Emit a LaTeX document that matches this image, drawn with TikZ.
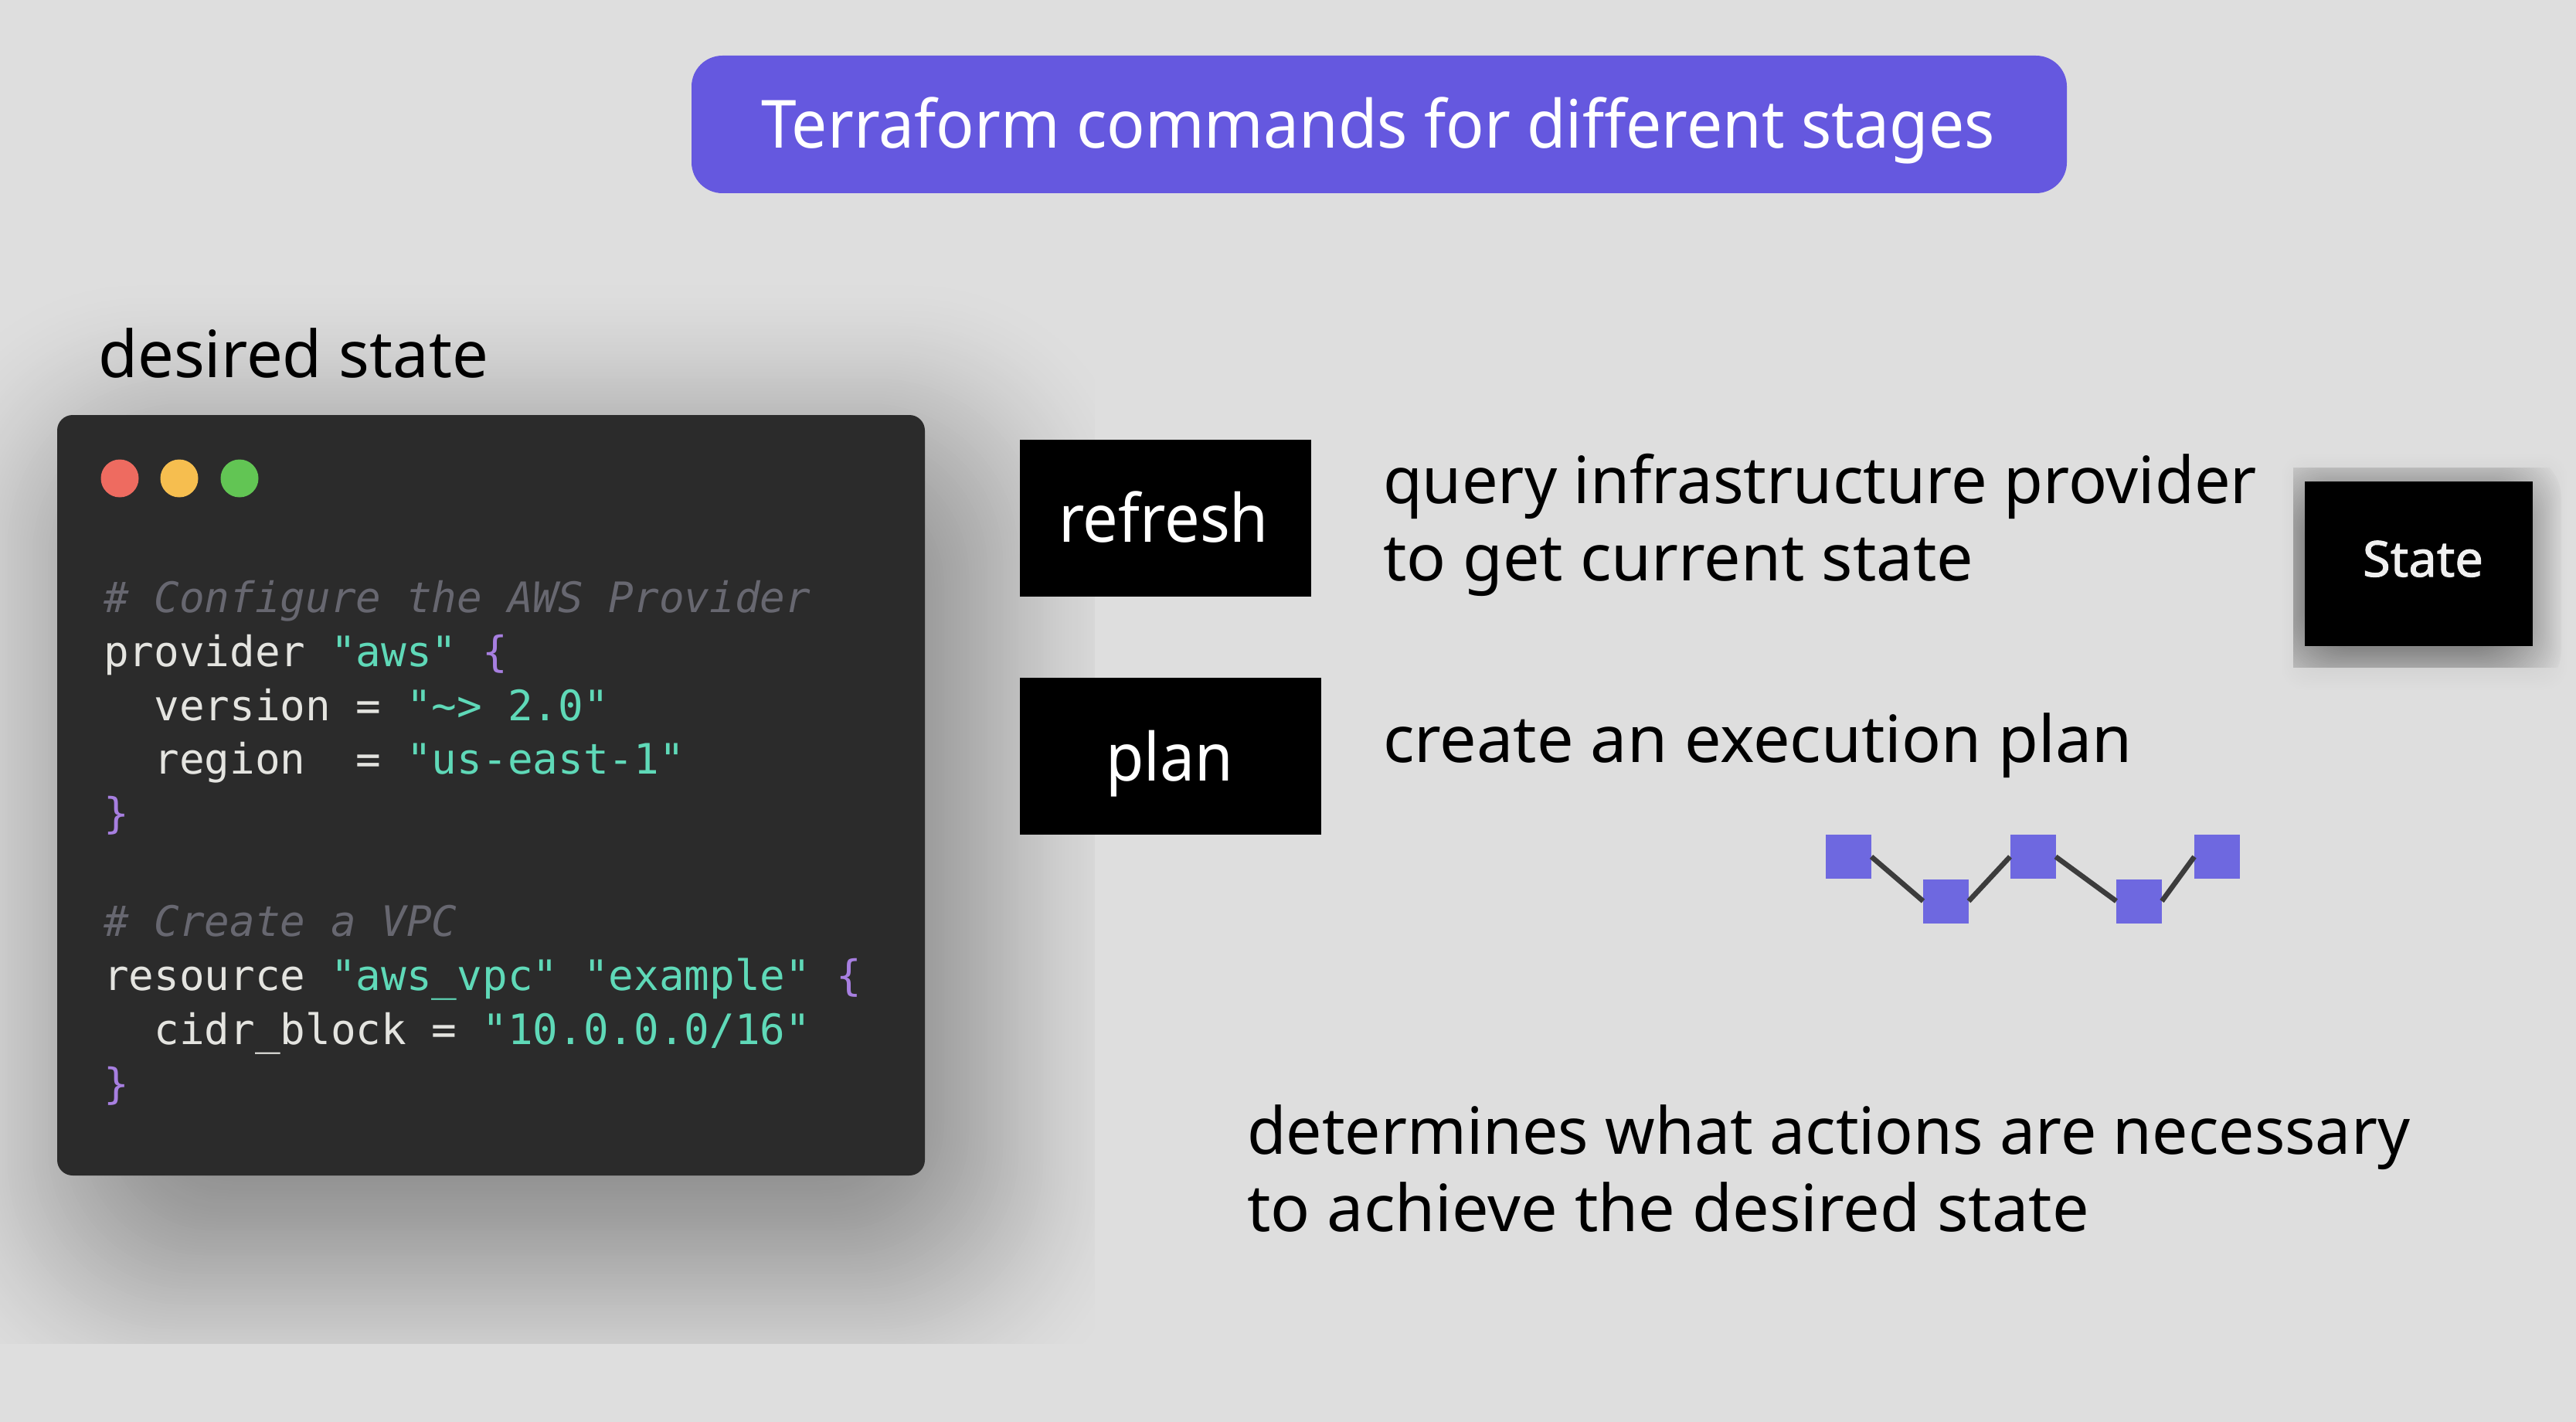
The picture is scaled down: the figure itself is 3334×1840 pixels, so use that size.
\documentclass[tikz,border=0pt]{standalone}
\usepackage{graphicx}
\usepackage{fontspec}
\setmainfont{Noto Sans}
\newfontfamily\codefont{DejaVu Sans Mono}
\newfontfamily\statefont[FakeBold=1.6]{Noto Sans}
\newcommand{\fitw}[2]{\setbox0\hbox{#2}\pgfmathsetmacro\fitfac{(#1*0.5)/\the\wd0}\scalebox{\fitfac}[1]{\box0}}
\definecolor{pagebg}{HTML}{DEDEDE}
\definecolor{titlebg}{HTML}{6558DF}
\definecolor{sqfill}{HTML}{6E68E0}
\definecolor{cardbg}{HTML}{2B2B2B}
\definecolor{codetext}{HTML}{E4E4E0}
\definecolor{codestr}{HTML}{5FD9B8}
\definecolor{codebrace}{HTML}{A77FE0}
\definecolor{codecmt}{HTML}{676770}
\definecolor{linkline}{HTML}{3C3C3C}
\definecolor{dotred}{HTML}{EE6B60}
\definecolor{dotyellow}{HTML}{F6BE4F}
\definecolor{dotgreen}{HTML}{62C554}
\newcommand{\str}[1]{\textcolor{codestr}{#1}}
\newcommand{\brc}[1]{\textcolor{codebrace}{#1}}
\tikzset{
  every node/.style={inner sep=0pt,outer sep=0pt},
  bigtext/.style={anchor=base west,font=\fontsize{42pt}{50pt}\selectfont,text=black},
  whitetext/.style={anchor=base west,font=\fontsize{43pt}{50pt}\selectfont,text=white},
  codeline/.style={anchor=base west,font=\codefont\fontsize{27.15pt}{34pt}\selectfont,text=codetext},
  cmtline/.style={anchor=base west,font=\codefont\itshape\fontsize{27.15pt}{34pt}\selectfont,text=codecmt},
  blackbox/.style={fill=black,draw=none,minimum height=101.5pt},
  planbox/.style={fill=sqfill,draw=none,minimum width=29.5pt,minimum height=28.5pt},
  link/.style={draw=linkline,line width=3.3pt},
  dot/.style={circle,minimum size=24.5pt},
}
\begin{document}
\begin{tikzpicture}[x=0.5pt,y=-0.5pt]
\useasboundingbox (0,0) rectangle (3334,1840);
\fill[pagebg] (0,0) rectangle (3334,1840);
% main soft shadow
\begin{scope}
\clip (0,0) rectangle (1416,1738);
\foreach \t in {0,...,100}{
  \pgfmathsetmacro\dd{\t*4}
  \pgfmathsetmacro\uu{\t/100}
  \pgfmathsetmacro\gv{int(round(222*(1-0.36*(3*\uu*\uu-2*\uu*\uu*\uu))))}
  \pgfmathsetmacro\rr{max(30,150-1.2*\t)}
  \fill[fill={rgb,255:red,\gv;green,\gv;blue,\gv},rounded corners=\rr pt]
    (-130+\dd,350+\dd) rectangle (1490-\dd,1860-\dd);
}
\end{scope}
% state shadow
\foreach \t in {0,...,10}{
  \pgfmathsetmacro\dd{\t*3}
  \pgfmathsetmacro\gv{int(round(222-1.0*\t))}
  \fill[fill={rgb,255:red,\gv;green,\gv;blue,\gv},rounded corners=15pt]
    (2950+\dd,585+\dd) rectangle (3325-\dd,895-\dd);
}
\begin{scope}
\clip (2968,605) rectangle (3330,863);
\foreach \t in {0,...,30}{
  \pgfmathsetmacro\dd{\t*2}
  \pgfmathsetmacro\gv{int(round(212-2.6*\t))}
  \fill[fill={rgb,255:red,\gv;green,\gv;blue,\gv},rounded corners=30pt]
    (2925+\dd,585+\dd) rectangle (3315-\dd,900-\dd);
}
\end{scope}
% title
\node[fill=titlebg,rounded corners=20pt,minimum width=890pt,minimum height=89pt] (titlebox) at (1785,161) {};
\node[whitetext] (titletext) at (985,192) {\fitw{1597}{Terraform commands for different stages}};
% desired state
\node[bigtext] (desired) at (127,488) {\fitw{505}{desired state}};
% card
\node[fill=cardbg,rounded corners=10pt,minimum width=561.5pt,minimum height=492pt] (card) at (635.5,1029) {};
\node[dot,fill=dotred] (dotr) at (155,619) {};
\node[dot,fill=dotyellow] (doty) at (232,619) {};
\node[dot,fill=dotgreen] (dotg) at (310,619) {};
\node[cmtline] (c1) at (134,792) {\#~Configure~the~AWS~Provider};
\node[codeline] (c2) at (134,862) {provider~\str{"aws"}~\brc{\{}};
\node[codeline] (c3) at (134,932) {~~version~=~\str{"\textasciitilde>~2.0"}};
\node[codeline] (c4) at (134,1001) {~~region~~=~\str{"us-east-1"}};
\node[codeline] (c5) at (134,1071) {\brc{\}}};
\node[cmtline] (c6) at (134,1211) {\#~Create~a~VPC};
\node[codeline] (c7) at (134,1281) {resource~\str{"aws\_vpc"}~\str{"example"}~\brc{\{}};
\node[codeline] (c8) at (134,1351) {~~cidr\_block~=~\str{"10.0.0.0/16"}};
\node[codeline] (c9) at (134,1421) {\brc{\}}};
% refresh / plan
\node[blackbox,minimum width=188.5pt] (refreshbox) at (1508.5,670.5) {};
\node[whitetext] (refreshtext) at (1370,701) {\fitw{272}{refresh}};
\node[blackbox,minimum width=195pt] (planbox) at (1515,978.5) {};
\node[whitetext] (plantext) at (1431,1010) {\fitw{165}{plan}};
\node[bigtext] (q1) at (1790,651) {\fitw{1131}{query infrastructure provider}};
\node[bigtext] (q2) at (1790,751) {\fitw{764}{to get current state}};
\node[bigtext] (q3) at (1790,986) {\fitw{970}{create an execution plan}};
\node[bigtext] (d1) at (1614,1493) {\fitw{1505}{determines what actions are necessary}};
\node[bigtext] (d2) at (1614,1593) {\fitw{1090}{to achieve the desired state}};
% state
\node[fill=black,minimum width=147.5pt,minimum height=106.5pt] (statebox) at (3130.5,729.5) {};
\node[anchor=base west,font=\statefont\fontsize{32pt}{38pt}\selectfont,text=white!94!black] (statetext) at (3058,746) {\fitw{156}{State}};
% plan graph
\node[planbox] (s1) at (2392.5,1108.5) {};
\node[planbox] (s2) at (2518.5,1166) {};
\node[planbox] (s3) at (2631,1108.5) {};
\node[planbox] (s4) at (2768.5,1166) {};
\node[planbox] (s5) at (2869.5,1108.5) {};
\draw[link] (s1.east) -- (s2.west);
\draw[link] (s2.east) -- (s3.west);
\draw[link] (s3.east) -- (s4.west);
\draw[link] (s4.east) -- (s5.west);
\end{tikzpicture}
\end{document}
